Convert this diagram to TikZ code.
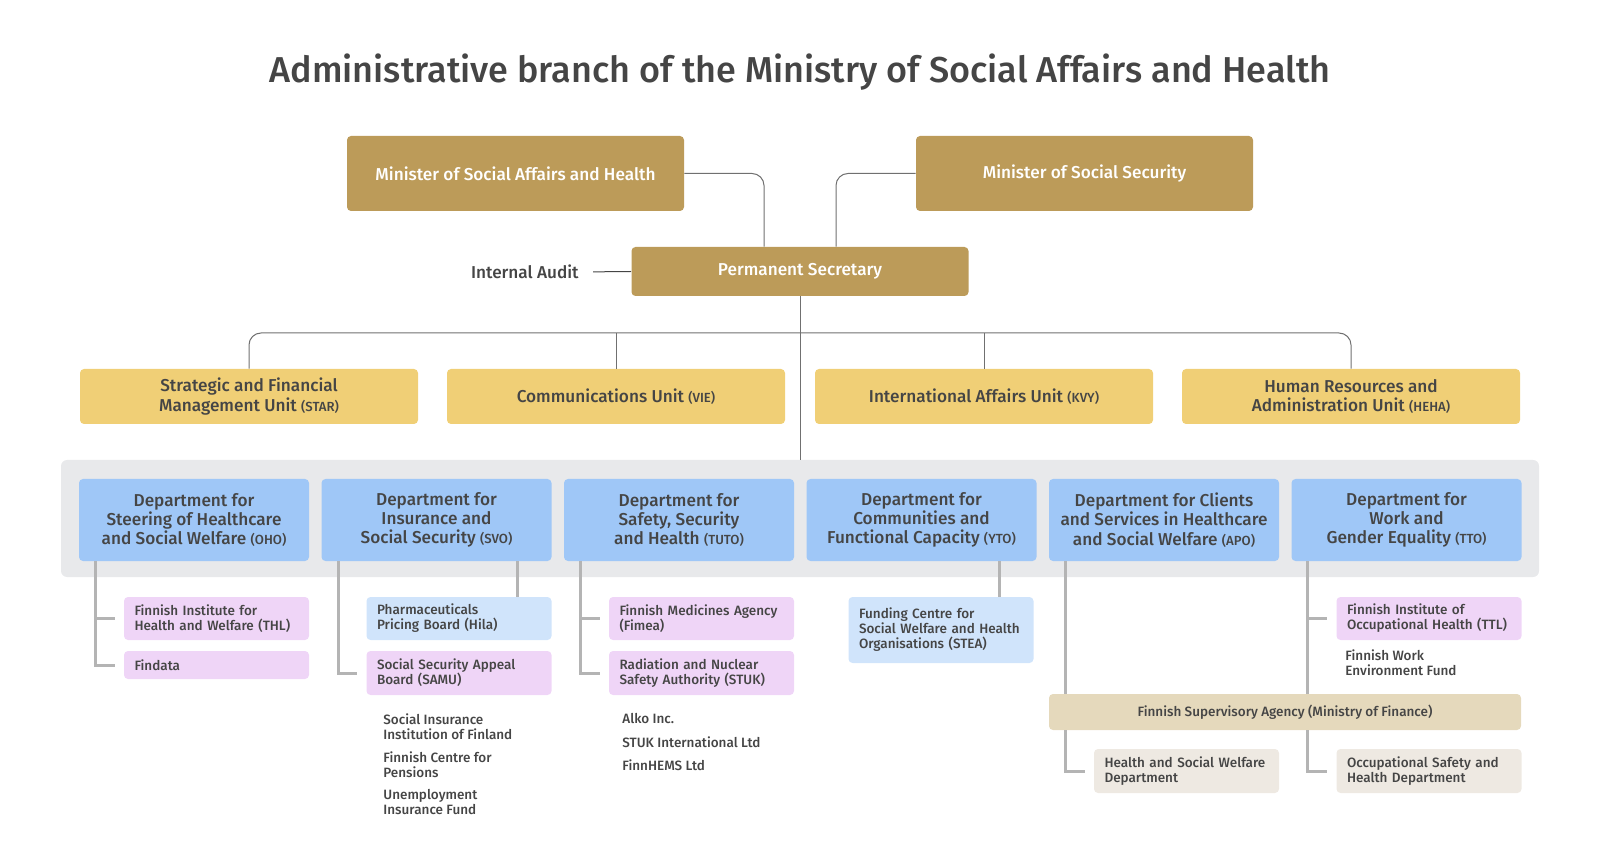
\documentclass[tikz,border=0pt]{standalone}
\usepackage{fontspec}
\setmainfont{Fira Sans Medium}
\usepackage{tikz}

\definecolor{goldbox}{HTML}{BC9B59}
\definecolor{unitbox}{HTML}{F0CF76}
\definecolor{deptbox}{HTML}{9FC7F7}
\definecolor{bandgray}{HTML}{E8E9EB}
\definecolor{pinkbox}{HTML}{EFD5F7}
\definecolor{paleblue}{HTML}{D0E4FB}
\definecolor{fsabox}{HTML}{E5D9BC}
\definecolor{palebeige}{HTML}{EEE9E2}
\definecolor{inktext}{HTML}{454545}
\definecolor{thinline}{HTML}{707070}
\definecolor{subline}{HTML}{B4B4B4}

\newcommand{\titlefont}{\fontsize{18pt}{21pt}\selectfont}
\newcommand{\boxfont}{\fontsize{8.6pt}{9.6pt}\selectfont}
\newcommand{\subfont}{\fontsize{6.75pt}{7.5pt}\selectfont}
\newcommand{\unitabbr}[1]{{\fontsize{6.6pt}{9.6pt}\selectfont #1}}

\begin{document}
\begin{tikzpicture}[x=0.5pt,y=-0.5pt]
        \tikzstyle{every node} = [rectangle, text=inktext, inner sep=0pt]
        \tikzstyle{minister} = [fill=goldbox, rounded corners=2pt, text=white, font=\boxfont, minimum width=168.5pt, minimum height=37.5pt]
        \tikzstyle{unit} = [fill=unitbox, rounded corners=2pt, align=center, font=\boxfont, minimum width=169pt, minimum height=27.5pt]
        \tikzstyle{dept} = [fill=deptbox, rounded corners=2pt, align=center, font=\boxfont, minimum width=115pt, minimum height=41pt]
        \tikzstyle{subbox} = [rounded corners=2pt, align=left, font=\subfont, text width=82pt, inner xsep=5.25pt, minimum height=21.5pt]
        \tikzstyle{extra} = [anchor=west, align=left, font=\subfont]
        \tikzstyle{toplink} = [draw=thinline, line width=0.5pt, rounded corners=6pt]
        \tikzstyle{sublink} = [draw=subline, line width=1.5pt]
        \useasboundingbox (0,0) rectangle (1600,865);

        \node[anchor=base, font=\titlefont] (title) at (800,83) {Administrative branch of the Ministry of Social Affairs and Health};

        % ministers and permanent secretary
        \node[minister] (msah) at (515.5,173.5) {Minister of Social Affairs and Health};
        \node[minister] (mss) at (1084.5,173.5) {Minister of Social Security};
        \node[minister, minimum height=24.5pt] (ps) at (800,271.5) {Permanent Secretary};
        \node[anchor=east, font=\boxfont] (audit) at (579,272) {Internal Audit};
        \draw[toplink] (msah.east) -| ([xshift=-18pt]ps.north);
        \draw[toplink] (mss.west) -| ([xshift=18pt]ps.north);
        \draw[toplink, draw=inktext, shorten <=7pt] (audit.east) -- (ps.west);

        % units
        \node[unit] (star) at (249,396.5) {Strategic and Financial\\Management Unit \unitabbr{(STAR)}};
        \node[unit] (vie) at (616,396.5) {Communications Unit \unitabbr{(VIE)}};
        \node[unit] (kvy) at (984,396.5) {International Affairs Unit \unitabbr{(KVY)}};
        \node[unit] (heha) at (1351,396.5) {Human Resources and\\Administration Unit \unitabbr{(HEHA)}};
        \coordinate (bus) at (800,333);
        \draw[toplink] (star.north) |- (bus) -| (heha.north);
        \draw[toplink] (vie.north) -- (vie.north |- bus);
        \draw[toplink] (kvy.north) -- (kvy.north |- bus);

        % departments
        \node[fill=bandgray, rounded corners=3pt, minimum width=739pt, minimum height=58.5pt] (band) at (800,518.5) {};
        \draw[toplink] (ps.south) -- (ps.south |- band.north);
        \node[dept] (oho) at (194,520) {Department for\\Steering of Healthcare\\and Social Welfare \unitabbr{(OHO)}};
        \node[dept] (svo) at (436.5,520) {Department for\\Insurance and\\Social Security \unitabbr{(SVO)}};
        \node[dept] (tuto) at (679,520) {Department for\\Safety, Security\\and Health \unitabbr{(TUTO)}};
        \node[dept] (yto) at (921.5,520) {Department for\\Communities and\\Functional Capacity \unitabbr{(YTO)}};
        \node[dept] (apo) at (1164,520) {Department for Clients\\and Services in Healthcare\\and Social Welfare \unitabbr{(APO)}};
        \node[dept] (tto) at (1406.5,520) {Department for\\Work and\\Gender Equality \unitabbr{(TTO)}};

        % agencies
        \node[subbox, fill=pinkbox] (thl) at (216.5,618.5) {Finnish Institute for\\Health and Welfare (THL)};
        \node[subbox, fill=pinkbox, minimum height=14pt] (findata) at (216.5,665) {Findata};
        \node[subbox, fill=paleblue] (hila) at (459,618.5) {Pharmaceuticals\\Pricing Board (Hila)};
        \node[subbox, fill=pinkbox, minimum height=22pt] (samu) at (459,673) {Social Security Appeal\\Board (SAMU)};
        \node[subbox, fill=pinkbox] (fimea) at (701.5,618.5) {Finnish Medicines Agency\\(Fimea)};
        \node[subbox, fill=pinkbox, minimum height=22pt] (stuk) at (701.5,673) {Radiation and Nuclear\\Safety Authority (STUK)};
        \node[subbox, fill=paleblue, minimum height=33pt] (stea) at (941,630) {Funding Centre for\\Social Welfare and Health\\Organisations (STEA)};
        \node[subbox, fill=pinkbox] (ttl) at (1429,618.5) {Finnish Institute of\\Occupational Health (TTL)};
        \node[fill=fsabox, rounded corners=2pt, font=\subfont, minimum width=236pt, minimum height=18pt] (fsa) at (1285,712) {Finnish Supervisory Agency (Ministry of Finance)};
        \node[subbox, fill=palebeige, minimum height=22pt] (hsw) at (1186.5,771) {Health and Social Welfare\\Department};
        \node[subbox, fill=palebeige, minimum height=22pt] (osh) at (1429,771) {Occupational Safety and\\Health Department};

        \node[extra] (kela) at (383,726.5) {Social Insurance\\Institution of Finland};
        \node[extra] (etk) at (383,764.5) {Finnish Centre for\\Pensions};
        \node[extra] (tyj) at (383,802.5) {Unemployment\\Insurance Fund};
        \node[extra] (alko) at (622,719) {Alko Inc.};
        \node[extra] (stukint) at (622,742) {STUK International Ltd};
        \node[extra] (finnhems) at (622,765) {FinnHEMS Ltd};
        \node[extra] (tsr) at (1345,662.5) {Finnish Work\\Environment Fund};

        % links to agencies
        \draw[sublink] ([xshift=8.5pt]oho.south west) |- ([xshift=-4.5pt]thl.west);
        \draw[sublink] ([xshift=8.5pt]oho.south west) |- ([xshift=-4.5pt]findata.west);
        \draw[sublink] ([xshift=8.5pt]svo.south west) |- ([xshift=-4.5pt]samu.west);
        \draw[sublink] ([xshift=-17pt]svo.south east) -- ([xshift=-17pt]svo.south east |- hila.north);
        \draw[sublink] ([xshift=8.5pt]tuto.south west) |- ([xshift=-4.5pt]fimea.west);
        \draw[sublink] ([xshift=8.5pt]tuto.south west) |- ([xshift=-4.5pt]stuk.west);
        \draw[sublink] ([xshift=-18.5pt]yto.south east) -- ([xshift=-18.5pt]yto.south east |- stea.north);
        \draw[sublink] ([xshift=8.5pt]apo.south west) -- ([xshift=8.5pt]apo.south west |- fsa.north);
        \draw[sublink] ([xshift=8.5pt]apo.south west |- fsa.south) |- ([xshift=-4.5pt]hsw.west);
        \draw[sublink] ([xshift=8pt]tto.south west) -- ([xshift=8pt]tto.south west |- fsa.north);
        \draw[sublink] ([xshift=8pt]tto.south west) |- ([xshift=-4.5pt]ttl.west);
        \draw[sublink] ([xshift=8pt]tto.south west |- fsa.south) |- ([xshift=-4.5pt]osh.west);
\end{tikzpicture}
\end{document}
